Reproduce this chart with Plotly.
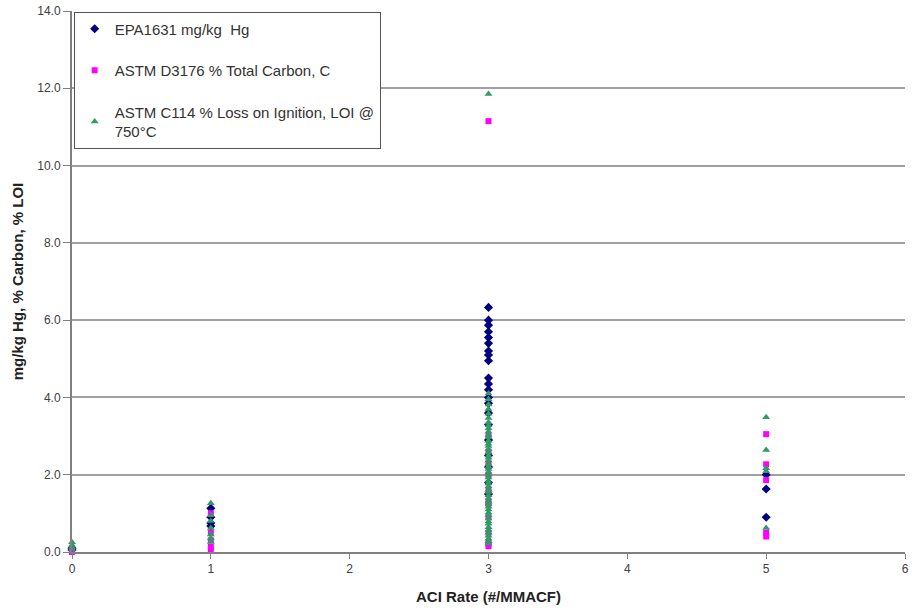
import plotly.graph_objects as go

# ACI injection rate (#/MMACF) and measured values per sample
hg_rate = [0, 0,
           1, 1, 1, 1,
           3, 3, 3, 3, 3, 3, 3, 3, 3, 3, 3, 3, 3, 3, 3, 3, 3, 3, 3, 3, 3,
           5, 5, 5]
hg_value = [0.05, 0.10,
            1.13, 0.90, 0.75, 0.67,
            6.33, 6.00, 5.87, 5.70, 5.55, 5.40, 5.20, 5.10, 4.95, 4.50, 4.35,
            4.20, 4.00, 3.85, 3.60, 3.30, 2.90, 2.50, 2.20, 1.80, 1.50,
            2.00, 1.63, 0.90]

carbon_rate = [0, 0,
               1, 1, 1, 1, 1,
               3, 3, 3, 3, 3, 3, 3, 3, 3, 3, 3, 3, 3,
               5, 5, 5, 5, 5]
carbon_value = [0.00, 0.03,
                1.00, 0.50, 0.30, 0.13, 0.05,
                11.15, 3.00, 2.60, 2.30, 2.00, 1.60, 1.30, 1.25, 0.90, 0.50,
                0.25, 0.20, 0.15,
                3.05, 2.27, 1.86, 0.50, 0.40]

loi_rate = [0, 0, 0, 0,
            1, 1, 1, 1, 1, 1, 1,
            3, 3, 3, 3, 3, 3, 3, 3, 3, 3, 3, 3, 3, 3, 3, 3, 3, 3, 3, 3,
            3, 3, 3, 3, 3, 3, 3, 3, 3, 3, 3, 3, 3, 3, 3, 3, 3, 3, 3, 3,
            3, 3, 3, 3, 3, 3, 3, 3, 3, 3,
            5, 5, 5, 5, 5]
loi_value = [0.25, 0.18, 0.12, 0.08,
             1.26, 0.95, 0.80, 0.62, 0.45, 0.36, 0.26,
             11.85, 4.10, 3.95, 3.82, 3.70, 3.58, 3.47, 3.35, 3.28, 3.20,
             3.12, 3.03, 2.97, 2.88, 2.80, 2.74, 2.66, 2.58, 2.50, 2.44,
             2.37, 2.28, 2.21, 2.15, 2.07, 2.00, 1.93, 1.84, 1.77, 1.70,
             1.61, 1.55, 1.47, 1.40, 1.31, 1.24, 1.17, 1.10, 1.02, 0.96,
             0.87, 0.79, 0.73, 0.64, 0.57, 0.50, 0.42, 0.35, 0.28, 0.22,
             3.49, 2.64, 2.17, 2.09, 0.62]

y_ticks = [0, 2, 4, 6, 8, 10, 12, 14]
x_ticks = [0, 1, 2, 3, 4, 5, 6]

FONT = "Liberation Sans, Arial, sans-serif"

fig = go.Figure()
fig.add_trace(go.Scatter(
    x=hg_rate, y=hg_value, mode="markers", name="EPA1631 mg/kg  Hg",
    legendgroup="a",
    marker=dict(symbol="diamond", size=7, color="#000080"),
    cliponaxis=False))
fig.add_trace(go.Scatter(
    x=carbon_rate, y=carbon_value, mode="markers",
    name="ASTM D3176 % Total Carbon, C", legendgroup="b",
    marker=dict(symbol="square", size=6, color="#ff00ff"),
    cliponaxis=False))
fig.add_trace(go.Scatter(
    x=loi_rate, y=loi_value, mode="markers",
    name="ASTM C114 % Loss on Ignition, LOI @<br>750°C", legendgroup="c",
    marker=dict(symbol="triangle-up", size=7, color="#339966"),
    cliponaxis=False))

fig.update_layout(
    width=913, height=611,
    margin=dict(l=72, r=4, t=10, b=59),
    paper_bgcolor="white", plot_bgcolor="white",
    font=dict(family=FONT, size=12, color="#222222"),
    legend=dict(
        x=0.002, y=0.999, xanchor="left", yanchor="top",
        traceorder="grouped", tracegroupgap=19,
        bgcolor="white", bordercolor="#555555", borderwidth=1,
        font=dict(family=FONT, size=15, color="#333333"),
        itemsizing="trace", itemwidth=30,
    ),
    showlegend=True,
)
fig.update_xaxes(
    range=[0, 6], tickvals=x_ticks, ticktext=[str(v) for v in x_ticks],
    showgrid=False, zeroline=False,
    showline=True, linecolor="#808080", linewidth=2,
    ticks="outside", ticklen=5, tickcolor="#808080",
    tickfont=dict(family=FONT, size=12, color="#404040"),
    title=dict(text="<b>ACI Rate (#/MMACF)</b>",
               font=dict(family=FONT, size=15, color="#222222"),
               standoff=16),
)
fig.update_yaxes(
    range=[0, 14], tickvals=y_ticks, ticktext=[f"{v:.1f}" for v in y_ticks],
    showgrid=True, gridcolor="#a0a0a0", gridwidth=2, zeroline=False,
    showline=True, linecolor="#808080", linewidth=2,
    ticks="outside", ticklen=7, tickcolor="#808080",
    tickfont=dict(family=FONT, size=12, color="#404040"),
    title=dict(text="<b>mg/kg Hg, % Carbon, % LOI</b>",
               font=dict(family=FONT, size=15, color="#222222"),
               standoff=10),
)

fig.write_html("out.html")
